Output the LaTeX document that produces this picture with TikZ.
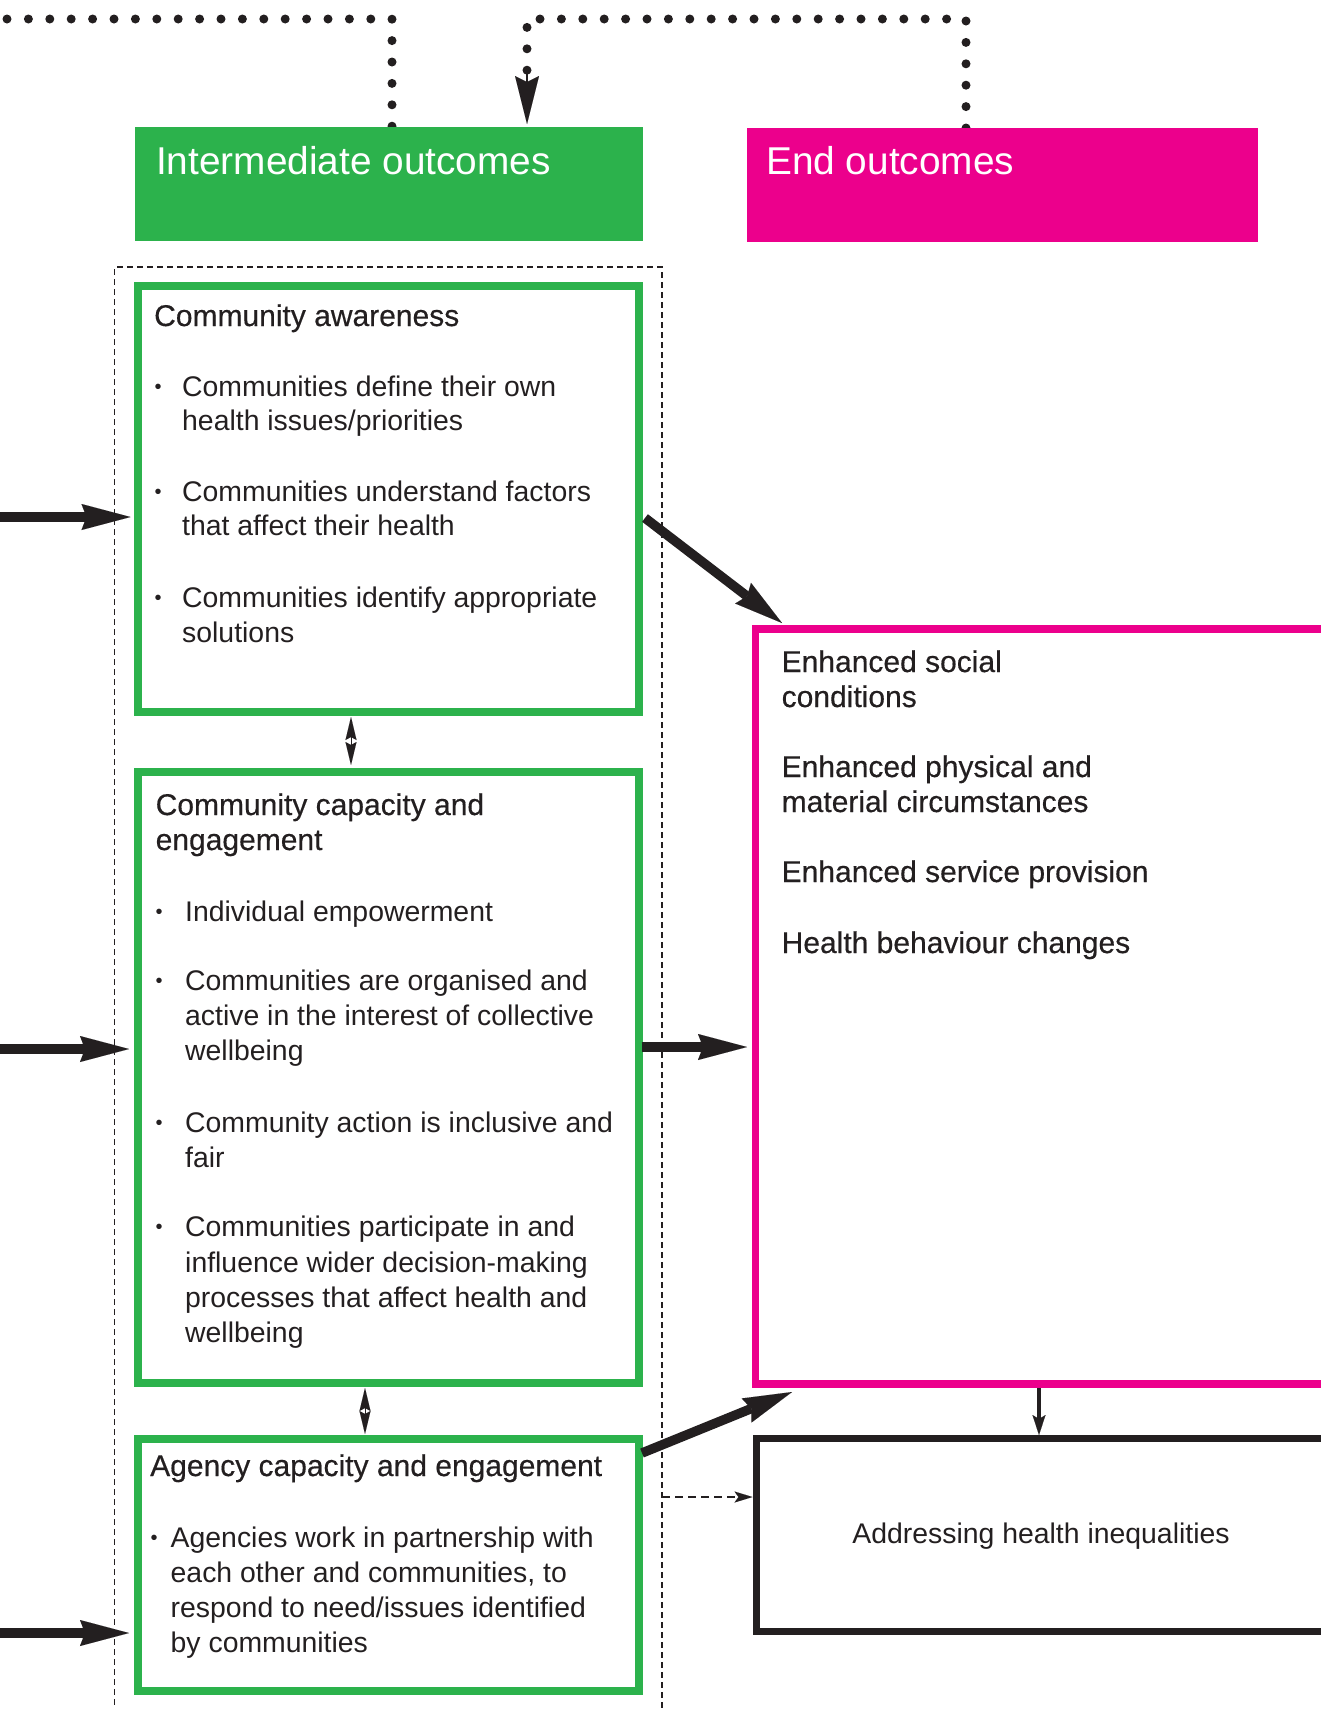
\documentclass[tikz,border=0pt]{standalone}
\usepackage{fontspec}
\setmainfont{Liberation Sans}
\newfontfamily\headfont{Liberation Sans}[FakeBold=0.4]
\usetikzlibrary{arrows.meta,calc}
\definecolor{cgreen}{RGB}{44,178,76}
\definecolor{cmag}{RGB}{236,0,140}
\definecolor{cdark}{RGB}{35,31,32}
\tikzset{
  hdrbox/.style={rectangle, draw=none, inner sep=0pt, outer sep=0pt},
  hdrtext/.style={anchor=base west, inner sep=0pt, text=white, font=\fontsize{38.8}{44}\selectfont},
  greenbox/.style={rectangle, draw=cgreen, line width=8pt, inner sep=0pt, outer sep=0pt},
  magbox/.style={rectangle, draw=cmag, line width=7.5pt, inner sep=0pt, outer sep=0pt},
  blackbox/.style={rectangle, draw=cdark, line width=7pt, inner sep=0pt, outer sep=0pt},
  grpbox/.style={rectangle, draw=cdark, line width=1.8pt, dash pattern=on 6pt off 4pt, inner sep=0pt, outer sep=0pt},
  bodytext/.style={anchor=base west, inner sep=0pt, text=cdark, font=\fontsize{28.4}{35}\selectfont},
  headtext/.style={anchor=base west, inner sep=0pt, text=cdark, font=\headfont\fontsize{30}{35}\selectfont},
  bulletmark/.style={anchor=base, inner sep=0pt, text=cdark, font=\fontsize{20}{22}\selectfont},
  bigarrow/.style={draw=cdark, line width=9.5pt, -{Stealth[length=49pt,width=26pt,inset=5pt,line width=0.01pt]}},
  thinarrow/.style={draw=cdark, line width=4pt, -{Stealth[length=20pt,width=13pt,inset=4pt,line width=0.01pt]}},
  dasharrow/.style={draw=cdark, line width=2pt, dash pattern=on 8pt off 5pt, -{Stealth[length=18pt,width=11pt,inset=4pt,line width=0.01pt]}},
  dblarrow/.style={draw=cdark, line width=1pt, {Stealth[length=23pt,width=11pt,inset=3pt,line width=0.01pt]}-{Stealth[length=23pt,width=11pt,inset=3pt,line width=0.01pt]}},
  dotline/.style={draw=cdark, line width=9pt, line cap=round, dash pattern=on 0pt off 21.4pt},
}
\newcommand\bodyln[4]{\node[bodytext] (#1) at (#2,#3) {#4};}
\newcommand\headln[4]{\node[headtext] (#1) at (#2,#3) {#4};}
\newcommand\bulln[3]{\node[bulletmark] (#1) at (#2,#3-3) {•};}
\begin{document}
\begin{tikzpicture}[x=1pt,y=-1pt]
\useasboundingbox (0,0) rectangle (1321,1709);
\clip (0,0) rectangle (1321,1709);

% group (dashed) box
\node[grpbox, minimum width=547.5pt, minimum height=1493pt] (grp) at (388.25,1013.5) {};

% header boxes
\node[hdrbox, fill=cgreen, minimum width=508pt, minimum height=114pt] (inth) at (389,184) {};
\node[hdrbox, fill=cmag, minimum width=511pt, minimum height=114pt] (endh) at (1002.5,185) {};

% dotted feedback lines
\coordinate (dotL) at (7,19);
\coordinate (dotC) at (527,19);
\draw[dotline] (dotL) -| ($(inth.north west)+(257,0)$);
\draw[dotline] ($(endh.north west)+(219,0)$) |- (dotC) -- ($(dotC)+(0,60)$);
\draw[draw=cdark, line width=2pt, -{Stealth[length=48pt,width=24pt,inset=6pt,line width=0.01pt]}] ($(dotC)+(0,55)$) -- ($(inth.north west)+(392,-3)$);

% redraw headers on top
\node[hdrbox, fill=cgreen, minimum width=508pt, minimum height=114pt] at (389,184) {};
\node[hdrbox, fill=cmag, minimum width=511pt, minimum height=114pt] at (1002.5,185) {};
\node[hdrtext] (intht) at (156,174) {Intermediate outcomes};
\node[hdrtext] (endht) at (766,174) {End outcomes};

% green boxes
\node[greenbox, minimum width=501pt, minimum height=426pt] (b1) at (388,499) {};
\node[greenbox, minimum width=501pt, minimum height=611pt] (b2) at (388,1077.5) {};
\node[greenbox, minimum width=501pt, minimum height=252pt] (b3) at (388,1565) {};

% end outcome boxes
\node[magbox, minimum width=604.5pt, minimum height=755pt] (mb) at (1057.75,1006.5) {};
\node[blackbox, minimum width=603.5pt, minimum height=193pt] (kb) at (1058.25,1535) {};

% box 1 text
\headln{b1h}{154}{326}{Community awareness}
\bulln{b1a}{158}{396}\bodyln{b1a1}{182}{396}{Communities define their own}
\bodyln{b1a2}{182}{430}{health issues/priorities}
\bulln{b1b}{158}{501}\bodyln{b1b1}{182}{501}{Communities understand factors}
\bodyln{b1b2}{182}{535}{that affect their health}
\bulln{b1c}{158}{607}\bodyln{b1c1}{182}{607}{Communities identify appropriate}
\bodyln{b1c2}{182}{642}{solutions}

% box 2 text
\headln{b2h1}{155.5}{815}{Community capacity and}
\headln{b2h2}{155.5}{850}{engagement}
\bulln{b2a}{159}{921}\bodyln{b2a1}{185}{921}{Individual empowerment}
\bulln{b2b}{159}{990}\bodyln{b2b1}{185}{990}{Communities are organised and}
\bodyln{b2b2}{185}{1025}{active in the interest of collective}
\bodyln{b2b3}{185}{1060}{wellbeing}
\bulln{b2c}{159}{1132}\bodyln{b2c1}{185}{1132}{Community action is inclusive and}
\bodyln{b2c2}{185}{1167}{fair}
\bulln{b2d}{159}{1236}\bodyln{b2d1}{185}{1236}{Communities participate in and}
\bodyln{b2d2}{185}{1272}{influence wider decision-making}
\bodyln{b2d3}{185}{1307}{processes that affect health and}
\bodyln{b2d4}{185}{1342}{wellbeing}

% box 3 text
\headln{b3h}{150}{1476}{Agency capacity and engagement}
\bulln{b3a}{154}{1547}\bodyln{b3a1}{170.5}{1547}{Agencies work in partnership with}
\bodyln{b3a2}{170.5}{1582}{each other and communities, to}
\bodyln{b3a3}{170.5}{1617}{respond to need/issues identified}
\bodyln{b3a4}{170.5}{1652}{by communities}

% magenta box text
\headln{m1}{781.5}{672}{Enhanced social}
\headln{m2}{781.5}{707}{conditions}
\headln{m3}{781.5}{777}{Enhanced physical and}
\headln{m4}{781.5}{812}{material circumstances}
\headln{m5}{781.5}{882}{Enhanced service provision}
\headln{m6}{781.5}{953}{Health behaviour changes}

% black box text
\node[bodytext, anchor=base] (kbt) at (1041,1543) {Addressing health inequalities};

% incoming arrows from the left
\coordinate (in1) at (-10,517);
\coordinate (in2) at (-10,1049);
\coordinate (in3) at (-10,1633);
\draw[bigarrow] (in1) -- ($(b1.west)+(-7,18)$);
\draw[bigarrow] (in2) -- ($(b2.west)+(-8.5,-28.5)$);
\draw[bigarrow] (in3) -- ($(b3.west)+(-8.5,68)$);

% arrows to end outcomes
\draw[bigarrow] ($(b1.east)+(6.5,19)$) -- ($(mb.north west)+(26.5,-6)$);
\draw[bigarrow] ($(b2.east)+(3,-30.5)$) -- ($(mb.west)+(-8.5,40.5)$);
\draw[bigarrow] ($(b3.east)+(3.5,-112)$) -- ($(mb.south west)+(36.5,8)$);

% double arrows between green boxes
\draw[dblarrow] ($(b1.south)+(-37,5)$) -- ($(b2.north)+(-37,-7)$);
\draw[dblarrow] ($(b2.south)+(-23,5)$) -- ($(b3.north)+(-23,-5)$);

% end outcome to addressing inequalities
\draw[thinarrow] ($(mb.south)+(-18.75,4)$) -- ($(kb.north)+(-19.25,-3.5)$);

% dashed arrow from group to black box
\draw[dasharrow] ($(grp.east)+(0,483.5)$) -- ($(kb.west)+(-4,-38)$);
\end{tikzpicture}
\end{document}
